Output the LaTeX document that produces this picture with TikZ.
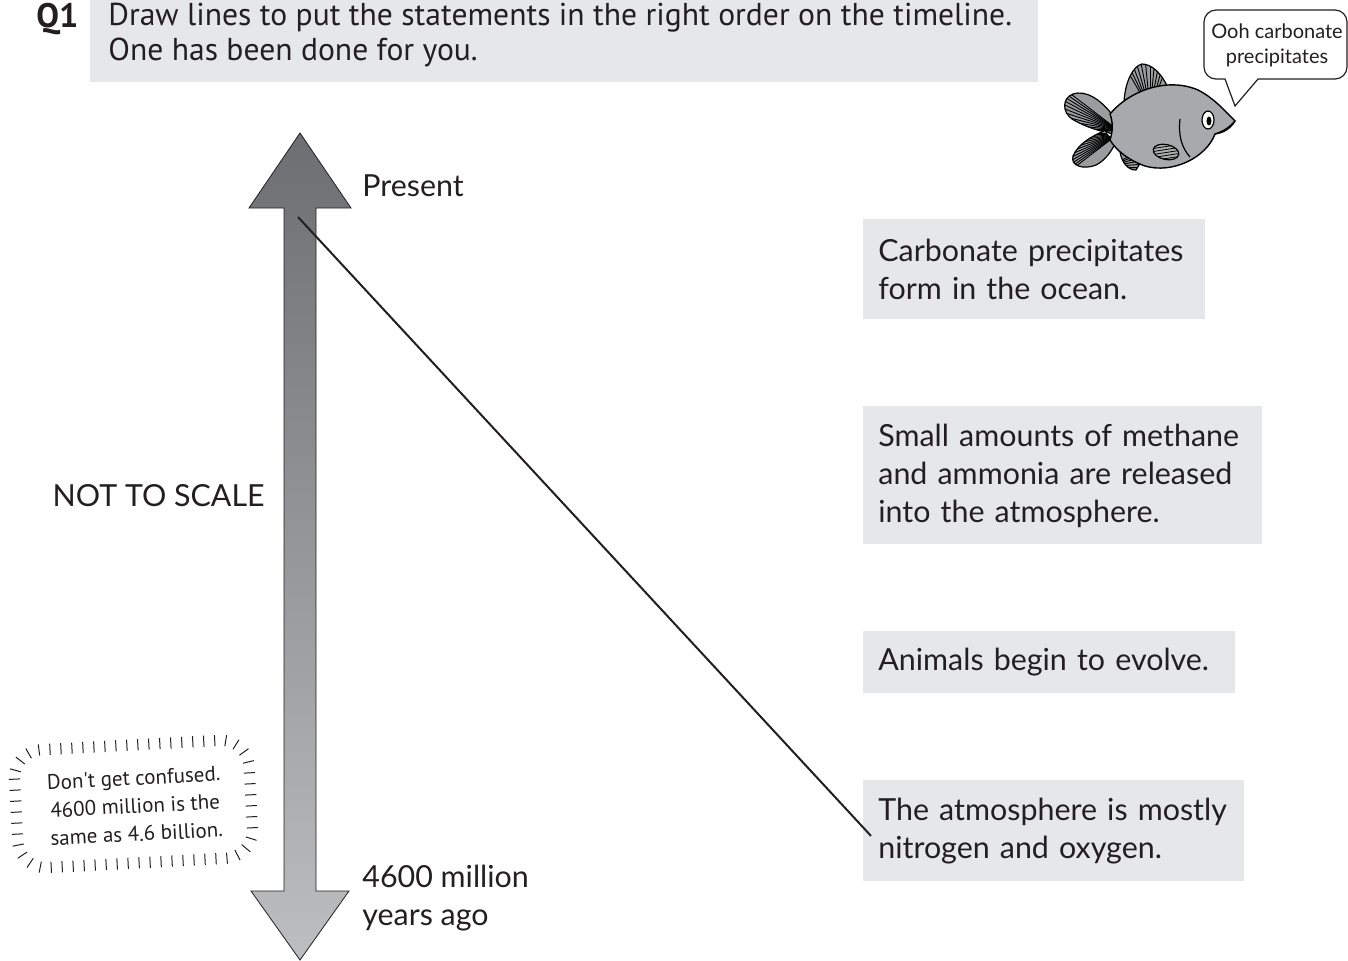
\documentclass[tikz,border=0pt]{standalone}
\usepackage{fontspec}
\setmainfont{Lato}
\newfontfamily\headfont{PT Sans}
\newfontfamily\notefont{PT Sans}
\usetikzlibrary{positioning,decorations.pathreplacing}

\definecolor{panelgrey}{HTML}{E6E7E8}
\definecolor{inkgrey}{HTML}{231F20}
\definecolor{arrowtop}{HTML}{6D6E71}
\definecolor{arrowbot}{HTML}{BCBEC0}
\definecolor{fishgrey}{HTML}{A7A9AC}
\definecolor{fingrey}{HTML}{9A9C9E}

\tikzset{
  stmt/.style={fill=panelgrey, anchor=north west, align=left, inner xsep=7.5pt, inner ysep=0pt,
    font=\fontsize{15.2}{19}\selectfont, text=inkgrey},
  tag/.style={font=\fontsize{15.2}{19}\selectfont, text=inkgrey, align=left, inner sep=0pt},
  stripe/.style={draw=black, line width=0.45pt},
}

\begin{document}
\begin{tikzpicture}[x=0.5pt, y=-0.5pt]
  \useasboundingbox (0,0) rectangle (1348,960);

  % question header
  \fill[panelgrey] (90,0) rectangle (1038,82);
  \node[anchor=north west, inner sep=0pt, font=\headfont\bfseries\fontsize{17}{17.5}\selectfont, text=inkgrey] (qnum) at (36,3) {Q1};
  \node[anchor=north west, inner sep=0pt, align=left, font=\headfont\fontsize{15.8}{17.5}\selectfont, text=inkgrey] (qtext) at (108,3)
    {Draw lines to put the statements in the right order on the timeline.\\One has been done for you.};

  % timeline arrow
  \coordinate (tip) at (300,133);
  \coordinate (base) at (300,960);
  \coordinate (now) at (298,217);
  \shadedraw[top color=arrowtop, bottom color=arrowbot, draw=inkgrey, line width=0.4pt]
    (tip) -- (351,208) -- (316,208) -- (316,891) -- (349,891) -- (base)
    -- (251,891) -- (284,891) -- (284,208) -- (249,208) -- cycle;

  \node[tag, anchor=west] (present) at (362,186) {Present};
  \node[tag, anchor=west] (past) at (362,898) {4600 million\\years ago};
  \node[tag, anchor=east] (scale) at (265,496) {NOT TO SCALE};

  % statements
  \node[stmt, text width=156pt, minimum height=50pt] (carb) at (863,219)
    {Carbonate precipitates\\form in the ocean.};
  \node[stmt, text width=184.5pt, minimum height=69pt] (gases) at (863,406)
    {Small amounts of methane\\and ammonia are released\\into the atmosphere.};
  \node[stmt, text width=171pt, minimum height=31pt] (animals) at (863,631)
    {Animals begin to evolve.};
  \node[stmt, text width=175.5pt, minimum height=50.5pt] (atmos) at (863,780)
    {The atmosphere is mostly\\nitrogen and oxygen.};

  \draw[inkgrey, line width=1pt] (now) -- ([shift={(8,5)}]atmos.west);

  % tip box
  \begin{scope}[rotate around={3:(133,804)}]
    \draw[inkgrey, line width=0.5pt, decorate, decoration={ticks, segment length=5.5pt, amplitude=2.8pt}]
      [rounded corners=14pt] (16,745) rectangle (251,863);
    \node[font=\notefont\fontsize{10.5}{14}\selectfont, text=inkgrey, align=center, rotate=3] (note) at (135,806)
      {Don't get confused.\\4600 million is the\\same as 4.6 billion.};
  \end{scope}

  % speech bubble
  \draw[inkgrey, fill=white, line width=0.6pt] (1258,79) [rounded corners=6pt] -- (1347,79) -- (1347,10)
    -- (1204,10) -- (1204,79) [sharp corners] -- (1225,79) -- (1235,106) -- cycle;
  \node[font=\fontsize{10}{12.5}\selectfont, text=inkgrey, align=center] (speech) at (1277,45)
    {Ooh carbonate\\precipitates};

  % fish: fins first, body over them
  \begin{scope}
    \clip (1114,117) .. controls (1100,98) and (1085,90) .. (1073,94)
      .. controls (1062,98) and (1062,112) .. (1072,119) .. controls (1082,125) and (1094,130) .. (1114,134) -- cycle;
    \fill[fingrey] (1050,80) rectangle (1120,140);
    \foreach \k in {0,...,12}
      \draw[stripe] (1118,130) -- (1050,78+\k*5);
  \end{scope}
  \draw[line width=0.6pt] (1114,117) .. controls (1100,98) and (1085,90) .. (1073,94)
      .. controls (1062,98) and (1062,112) .. (1072,119) .. controls (1082,125) and (1094,130) .. (1114,134);

  \begin{scope}
    \clip (1104,131) .. controls (1092,136) and (1078,144) .. (1073,156)
      .. controls (1070,166) and (1084,170) .. (1096,165) .. controls (1106,160) and (1112,150) .. (1116,142) -- cycle;
    \fill[fingrey] (1060,125) rectangle (1120,175);
    \foreach \k in {0,...,12}
      \draw[stripe] (1118,134) -- (1058,132+\k*4);
  \end{scope}
  \draw[line width=0.6pt] (1104,131) .. controls (1092,136) and (1078,144) .. (1073,156)
      .. controls (1070,166) and (1084,170) .. (1096,165) .. controls (1106,160) and (1112,150) .. (1116,142);

  \begin{scope}
    \clip (1124,102) .. controls (1125,82) and (1133,66) .. (1142,64)
      .. controls (1152,64) and (1162,74) .. (1168,88) -- cycle;
    \fill[fingrey] (1120,60) rectangle (1170,105);
    \foreach \k in {0,...,10}
      \draw[stripe] (1150,110) -- (1120+\k*5,58);
  \end{scope}
  \draw[line width=0.6pt] (1124,102) .. controls (1125,82) and (1133,66) .. (1142,64)
      .. controls (1152,64) and (1162,74) .. (1168,88);

  \begin{scope}
    \clip (1120,152) .. controls (1122,163) and (1128,170) .. (1136,170) -- (1142,160) -- cycle;
    \fill[fingrey] (1115,145) rectangle (1145,172);
    \foreach \k in {0,...,5}
      \draw[stripe] (1118,162+\k) -- (1145,148+\k*4);
  \end{scope}
  \draw[line width=0.6pt] (1120,152) .. controls (1122,163) and (1128,170) .. (1136,170) -- (1142,160);

  \draw[fill=fishgrey, line width=0.7pt] (1110,114) .. controls (1130,90) and (1168,77) .. (1198,90)
    .. controls (1214,98) and (1226,112) .. (1235,121) .. controls (1229,128) and (1222,132) .. (1215,134)
    .. controls (1206,158) and (1172,174) .. (1145,166) .. controls (1128,160) and (1116,150) .. (1110,140)
    .. controls (1113,131) and (1113,122) .. cycle;

  \begin{scope}
    \clip[rotate around={-12:(1166,152)}] (1166,152) ellipse (13 and 7.5);
    \fill[fingrey!80!white] (1150,140) rectangle (1182,164);
    \foreach \k in {0,...,5}
      \draw[stripe, line width=0.4pt] (1150,146+\k*3) -- (1182,141+\k*3);
  \end{scope}
  \draw[line width=0.6pt, rotate around={-12:(1166,152)}] (1166,152) ellipse (13 and 7.5);

  \draw[fill=white, line width=0.6pt] (1208,120) ellipse (6 and 9);
  \fill[black] (1209,121) ellipse (2.5 and 4.5);
  \draw[line width=0.6pt] (1180,119) .. controls (1178,136) and (1182,148) .. (1190,157);
  \draw[line width=0.6pt] (1215,134) .. controls (1224,133) and (1231,128) .. (1235,121);
\end{tikzpicture}
\end{document}
